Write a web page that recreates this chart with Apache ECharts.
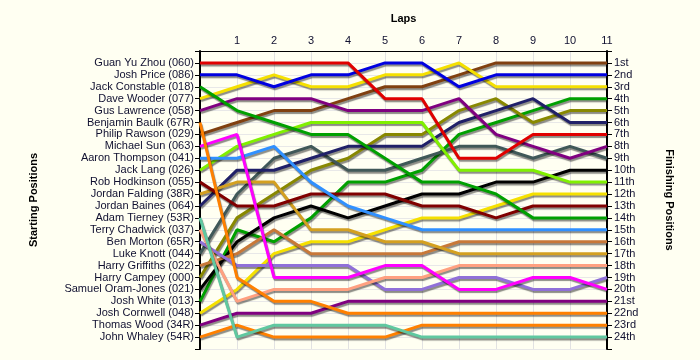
<!DOCTYPE html>
<html>
<head>
<meta charset="utf-8">
<script src="https://cdn.jsdelivr.net/npm/echarts@6/dist/echarts.min.js"></script>
<style>html,body{margin:0;padding:0;background:#fffff2;}#c{width:700px;height:360px;}</style>
</head>
<body>
<div id="c"></div>
<script>
const laps = [0,1,2,3,4,5,6,7,8,9,10,11];
const drivers = ["Guan Yu Zhou (060)","Josh Price (086)","Jack Constable (018)","Dave Wooder (077)","Gus Lawrence (058)","Benjamin Baulk (67R)","Philip Rawson (029)","Michael Sun (063)","Aaron Thompson (041)","Jack Lang (026)","Rob Hodkinson (055)","Jordan Falding (38R)","Jordan Baines (064)","Adam Tierney (53R)","Terry Chadwick (037)","Ben Morton (65R)","Luke Knott (044)","Harry Griffiths (022)","Harry Campey (000)","Samuel Oram-Jones (021)","Josh White (013)","Josh Cornwell (048)","Thomas Wood (34R)","John Whaley (54R)"];
const finishLabels = ["1st","2nd","3rd","4th","5th","6th","7th","8th","9th","10th","11th","12th","13th","14th","15th","16th","17th","18th","19th","20th","21st","22nd","23rd","24th"];
const colors = ["#e00000","#0000e0","#00a000","#f5e000","#800080","#ff8000","#804010","#ff00ff","#3090ff","#80f000","#800000","#d4a020","#202068","#60c8a0","#ffa080","#9070d8","#405858","#c87838","#888800","#000000","#00a000","#f5e000","#800080","#ff8000"];
const positions = [
 [1,1,1,1,1,4,4,9,9,7,7,7],
 [2,2,3,2,2,1,1,3,2,2,2,2],
 [3,5,6,7,7,9,11,11,12,14,14,14],
 [4,3,2,3,3,2,2,1,3,3,3,3],
 [5,4,4,4,5,5,5,4,7,8,9,8],
 [6,19,21,21,22,22,22,22,22,22,22,22],
 [7,6,5,5,4,3,3,2,1,1,1,1],
 [8,7,19,19,19,18,18,20,20,19,19,20],
 [9,9,8,11,13,14,15,15,15,15,15,15],
 [10,8,7,6,6,6,6,10,10,10,11,11],
 [11,13,13,12,12,12,13,13,14,13,13,13],
 [12,11,11,15,15,16,16,17,17,17,17,17],
 [13,10,10,9,8,8,8,6,5,4,6,6],
 [14,24,23,23,23,23,24,24,24,24,24,24],
 [15,21,20,20,20,19,19,18,18,18,18,18],
 [16,18,18,18,18,20,20,19,19,20,20,19],
 [17,12,9,8,10,10,9,8,8,9,8,9],
 [18,17,15,17,17,17,17,16,16,16,16,16],
 [19,14,12,10,9,7,7,5,4,6,5,5],
 [20,16,14,13,14,13,12,12,11,11,10,10],
 [21,15,16,14,11,11,10,7,6,5,4,4],
 [22,20,17,16,16,15,14,14,13,12,12,12],
 [23,22,22,22,21,21,21,21,21,21,21,21],
 [24,23,24,24,24,24,23,23,23,23,23,23]
];

const chart = echarts.init(document.getElementById('c'), null, {renderer:'canvas'});
const font = '"Liberation Sans", Arial, sans-serif';
const txt = '#101030';
const series = drivers.map((name, i) => ({
  name: name,
  type: 'line',
  data: laps.map((l, j) => [l, positions[i][j]]),
  showSymbol: false,
  symbol: 'none',
  xAxisIndex: 0,
  yAxisIndex: 0,
  lineStyle: {width: 3, color: colors[i], shadowColor: 'rgba(0,0,0,0.45)', shadowBlur: 1, shadowOffsetX: 1, shadowOffsetY: 2},
  itemStyle: {color: colors[i]},
  z: 2 + (24 - i) / 100,
  animation: false
}));

chart.setOption({
  backgroundColor: '#fffff2',
  animation: false,
  grid: {left: 200, right: 93, top: 51, bottom: 11, show: true, backgroundColor: '#fffff2', borderWidth: 0},
  xAxis: {
    type: 'value', position: 'top', min: 0, max: 11, interval: 1,
    name: 'Laps', nameLocation: 'middle', nameGap: 27,
    nameTextStyle: {fontFamily: font, fontSize: 11, fontWeight: 'bold', color: '#000'},
    axisLine: {show: true, lineStyle: {color: '#000', width: 1}},
    axisTick: {show: false},
    axisLabel: {fontFamily: font, fontSize: 11, color: txt, margin: 5, formatter: v => v === 0 ? '' : String(v)},
    splitLine: {show: true, lineStyle: {color: '#e2e2e2', width: 1}}
  },
  yAxis: [{
    type: 'value', inverse: true, min: 0, max: 25, interval: 1, position: 'left',
    name: 'Starting Positions', nameLocation: 'middle', nameGap: 161, nameRotate: 90,
    nameTextStyle: {fontFamily: font, fontSize: 11, fontWeight: 'bold', color: '#000'},
    axisLine: {show: true, lineStyle: {color: '#000', width: 2}},
    axisTick: {show: true, length: 5, lineStyle: {color: '#000'}},
    axisLabel: {fontFamily: font, fontSize: 11, color: txt, margin: 6, formatter: v => drivers[v - 1] || ''},
    splitLine: {show: true, lineStyle: {color: '#e8e8e8', width: 1}}
  }, {
    type: 'value', inverse: true, min: 0, max: 25, interval: 1, position: 'right',
    name: 'Finishing Positions', nameLocation: 'middle', nameGap: 57, nameRotate: -90,
    nameTextStyle: {fontFamily: font, fontSize: 11, fontWeight: 'bold', color: '#000'},
    axisLine: {show: true, lineStyle: {color: '#000', width: 2}},
    axisTick: {show: true, length: 5, lineStyle: {color: '#000'}},
    axisLabel: {fontFamily: font, fontSize: 11, color: txt, margin: 7, formatter: v => finishLabels[v - 1] || ''},
    splitLine: {show: false}
  }],
  series: series
});
</script>
</body>
</html>
